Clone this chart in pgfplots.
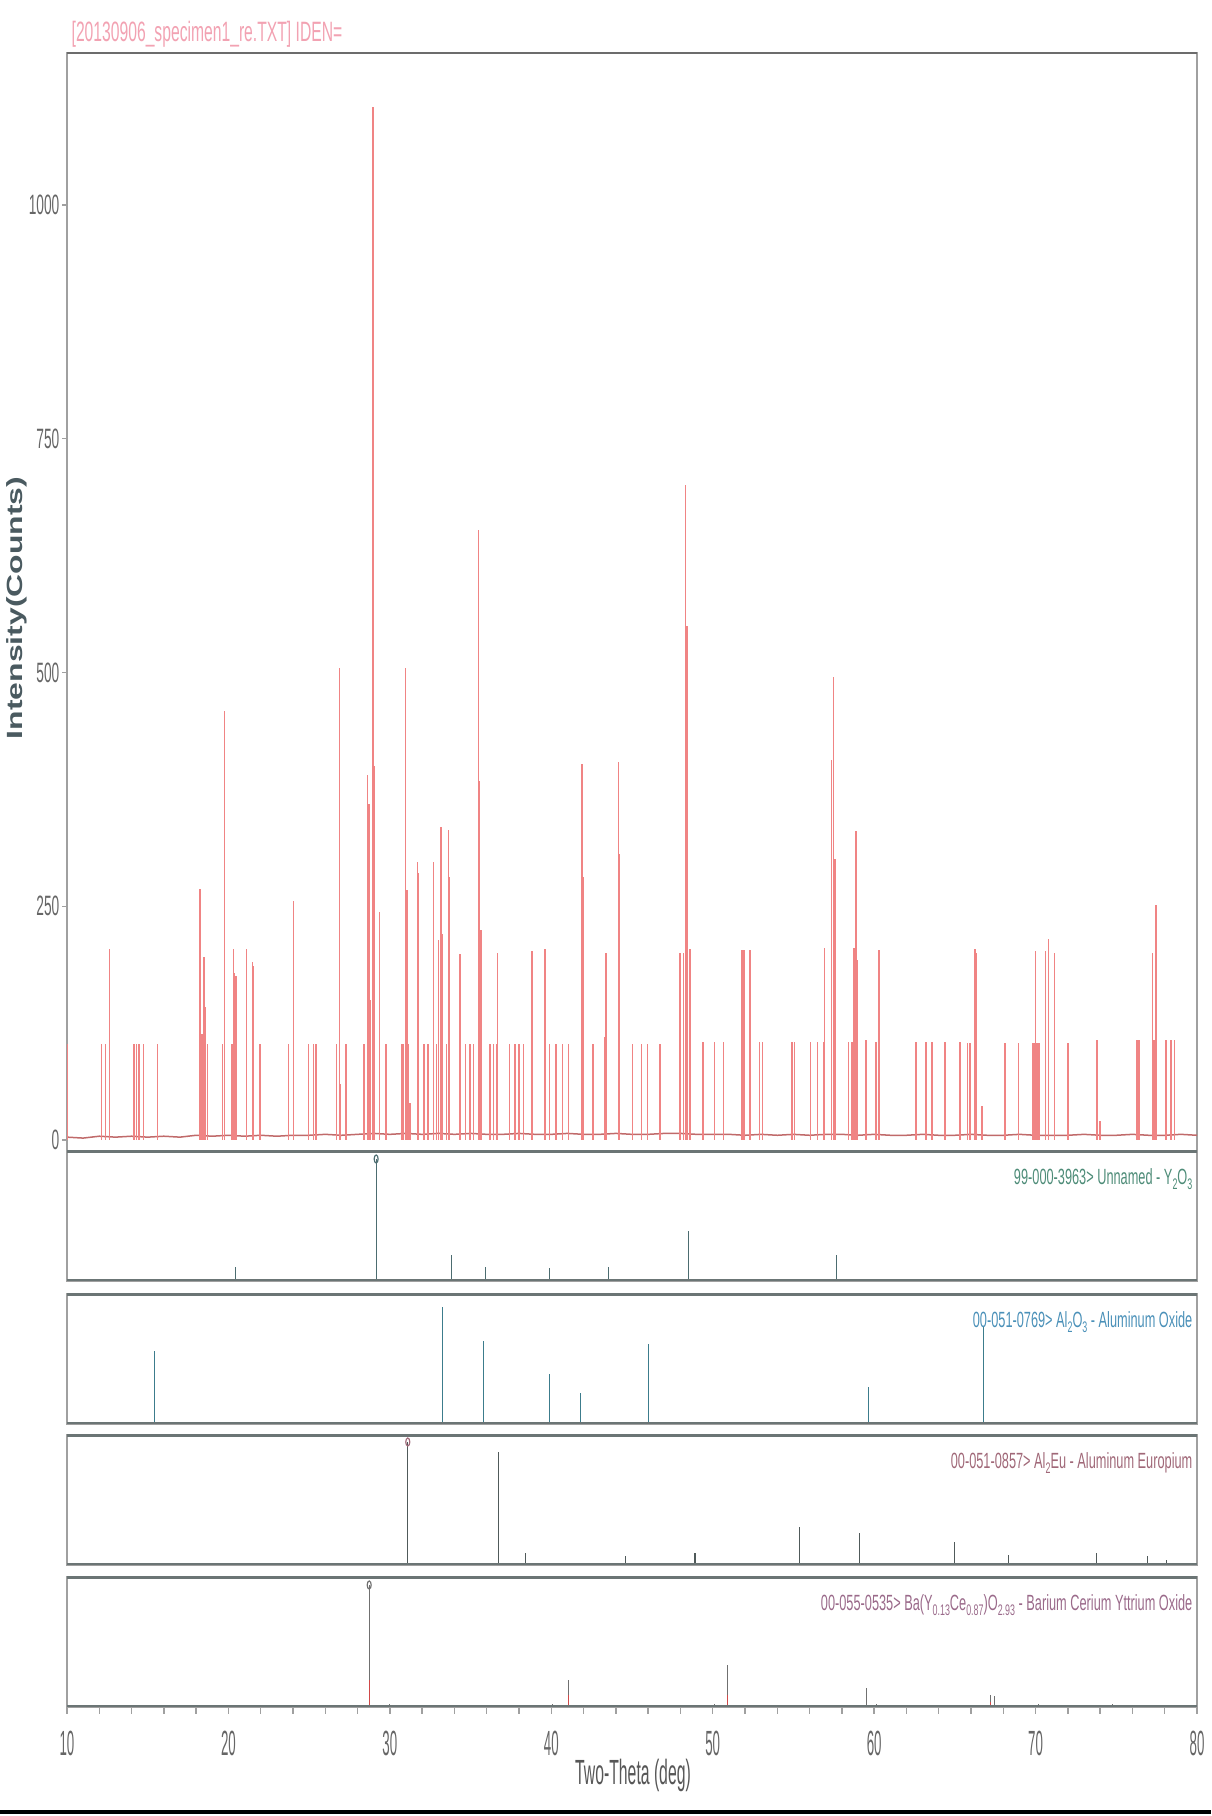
\documentclass[border=0pt]{standalone}
\usepackage{fontspec}
\setmainfont{Liberation Sans}
\usepackage{pgfplots}
\pgfplotsset{compat=1.18}
\newfontfamily\titlef[FakeStretch=0.56]{Liberation Sans}
\newfontfamily\ytickf[FakeStretch=0.49]{Liberation Sans}
\newfontfamily\xtickf[FakeStretch=0.38]{Liberation Sans}
\newfontfamily\panelf[FakeStretch=0.58]{Liberation Sans}
\newfontfamily\xlabf[FakeStretch=0.45]{Liberation Sans}
\newfontfamily\ylabf[FakeStretch=1.45]{Liberation Sans}
\newcommand\sub[1]{\raisebox{-0.35ex}{\fontsize{4.6}{4.6}\selectfont #1}}
\definecolor{spec}{HTML}{F08484}
\definecolor{titlec}{HTML}{F2A2B2}
\definecolor{tickc}{HTML}{666666}
\definecolor{axc}{HTML}{A0A0A0}
\definecolor{framec}{HTML}{6B7575}
\definecolor{ylabc}{HTML}{4A5A60}
\definecolor{lab1}{HTML}{4E8C78}
\definecolor{lab2}{HTML}{4A90B8}
\definecolor{lab3}{HTML}{A06878}
\definecolor{lab4}{HTML}{9A6A8A}
\definecolor{stk1}{HTML}{4C6C70}
\definecolor{stk2}{HTML}{3C7C8C}
\definecolor{stk3}{HTML}{505A5A}
\definecolor{stk4}{HTML}{707070}
\definecolor{stkred}{HTML}{D04848}
\pgfplotsset{
  base/.style={
    scale only axis, width=339pt,
    xmin=10, xmax=80,
    axis line style={draw=axc, line width=0.4pt},
    tick style={draw=axc, line width=0.4pt},
    /pgf/number format/assume math mode=true,
  },
  panel/.style={
    base, height=39pt, ymin=0, ymax=130,
    xtick=\empty, ytick=\empty,
  },
  stick/.style={ycomb, line width=0.35pt, #1},
  topmark/.style={only marks, mark=o, mark size=0.6pt,
    mark options={yscale=2, line width=0.35pt, #1}},
}
\tikzset{plabel/.style={anchor=base east, font=\panelf\fontsize{6.6}{6.6}\selectfont, inner sep=0pt}}
\newcommand\frames{%
  \draw[framec, line width=1.2pt] (rel axis cs:0,0) -- (rel axis cs:1,0);
  \draw[framec, line width=1.2pt] (rel axis cs:0,1) -- (rel axis cs:1,1);}
\begin{document}
\begin{tikzpicture}
\useasboundingbox (0,0) rectangle (363.3pt,544.8pt);
% main pattern
\begin{axis}[base, at={(20.1pt,199.5pt)}, anchor=south west,
  height=329.4pt, ymin=-11.8, ymax=1162.6,
  xtick=\empty, ytick={0,250,500,750,1000},
  yticklabels={0,250,500,750,1000},
  ytick pos=left, tick align=outside, major tick length=1.5pt,
  yticklabel style={font=\ytickf\fontsize{8.4}{8.4}\selectfont, text=tickc, inner sep=0.6pt},
]
\addplot[spec!80!black, line width=0.45pt] coordinates {
(10,3)(11,2)(12,4)(13,3)(14,4)(15,3)(16,4)(17,3)(18,5)(19,4)(20,5)(21,4)(22,5)(23,4)
(24,5)(25,5)(26,6)(27,5)(28,6)(29,7)(30,6)(31,7)(32,6)(33,7)(34,6)(35,7)(36,6)(37,6)
(38,7)(39,6)(40,6)(41,7)(42,6)(43,6)(44,7)(45,6)(46,6)(47,7)(48,7)(49,6)(50,6)(51,6)
(52,5)(53,6)(54,5)(55,6)(56,5)(57,6)(58,6)(59,5)(60,6)(61,5)(62,5)(63,6)(64,5)(65,5)
(66,6)(67,5)(68,5)(69,6)(70,5)(71,5)(72,5)(73,6)(74,5)(75,5)(76,6)(77,5)(78,5)(79,6)(80,5)};
\addplot[stick=spec, line width=0.45pt] coordinates {
(10.02,103)(12.15,103)(12.39,103)(12.62,204)(14.15,103)(14.32,103)(14.46,103)(14.73,103)
(15.60,103)(18.20,110)(18.24,268)(18.36,113)(18.50,196)(18.58,142)(18.70,103)(19.62,103)
(19.75,459)(20.22,103)(20.30,204)(20.39,179)(20.48,175)(21.12,204)(21.50,190)(21.56,186)
(21.95,103)(23.71,103)(24.02,256)(24.95,103)(25.26,103)(25.43,103)(26.70,103)(26.87,505)
(26.95,60)(27.27,103)(28.40,103)(28.62,390)(28.70,359)(28.80,150)(28.93,990)(28.96,1105)
(29.02,400)(29.35,244)(29.76,103)(30.74,103)(30.85,103)(30.98,505)(31.05,267)(31.15,103)
(31.25,40)(31.70,297)(31.78,285)(32.10,103)(32.35,103)(32.70,297)(32.90,103)(33.00,214)
(33.17,335)(33.25,220)(33.50,103)(33.62,331)(33.68,281)(34.35,199)(34.70,103)(34.97,103)
(35.17,103)(35.48,652)(35.53,384)(35.65,225)(36.20,103)(36.41,103)(36.62,103)(36.68,200)
(37.40,103)(37.76,103)(38.00,103)(38.27,103)(38.79,202)(39.62,204)(39.90,103)(40.28,103)
(40.70,103)(41.06,103)(41.90,402)(41.96,281)(42.57,103)(43.30,110)(43.40,200)(44.16,404)
(44.22,306)(45.02,103)(45.60,103)(45.97,103)(46.74,103)(47.98,200)(48.19,200)(48.32,701)
(48.40,550)(48.58,204)(49.39,105)(50.10,105)(50.66,105)(51.80,203)(51.94,203)(52.32,203)
(52.90,105)(53.08,105)(54.90,105)(55.06,105)(56.07,105)(56.50,105)(56.85,105)(56.92,205)
(57.35,406)(57.48,495)(57.56,300)(58.40,105)(58.62,105)(58.75,205)(58.88,330)(58.95,193)
(59.50,107)(60.10,105)(60.30,203)(62.60,105)(63.20,105)(63.57,105)(64.40,105)(65.33,105)
(65.78,104)(65.95,104)(66.26,204)(66.35,200)(66.67,36)(68.10,104)(68.94,104)(69.80,104)
(69.90,104)(70.00,202)(70.10,104)(70.20,104)(70.60,202)(70.80,215)(71.17,200)(72.00,104)
(73.80,107)(74.00,20)(76.27,107)(76.42,107)(77.24,200)(77.35,107)(77.45,251)(78.07,107)
(78.40,107)(78.60,107)};
\draw[gray!85!black, line width=0.6pt] (rel axis cs:0,1) -- (rel axis cs:1,1);
\end{axis}
% 99-000-3963 Y2O3
\begin{axis}[panel, at={(20.1pt,160.5pt)}, anchor=south west]
\addplot[stick=stk1] coordinates {(20.44,14)(29.15,122)(33.80,26)(35.90,14)(39.87,13)(43.55,14)(48.50,50)(57.66,26)};
\addplot[topmark=stk1] coordinates {(29.15,122)};
\frames
\node[plabel, text=lab1] at ([xshift=-1.2pt,yshift=-10.2pt]rel axis cs:1,1) {99-000-3963> Unnamed - Y\sub{2}O\sub{3}};
\end{axis}
% 00-051-0769 Al2O3
\begin{axis}[panel, at={(20.1pt,117.6pt)}, anchor=south west]
\addplot[stick=stk2] coordinates {(15.42,73)(33.27,117)(35.80,83)(39.87,50)(41.83,31)(46.04,80)(59.67,37)(66.75,97)};
\frames
\node[plabel, text=lab2] at ([xshift=-1.2pt,yshift=-10.2pt]rel axis cs:1,1) {00-051-0769> Al\sub{2}O\sub{3} - Aluminum Oxide};
\end{axis}
% 00-051-0857 Al2Eu
\begin{axis}[panel, at={(20.1pt,75.3pt)}, anchor=south west]
\addplot[stick=stk3] coordinates {(31.11,123)(36.71,113)(38.40,12)(44.60,9)(48.90,12)(55.40,38)(59.10,32)(64.98,23)(68.33,10)(73.78,12)(76.94,9)(78.09,5)};
\addplot[topmark=lab3] coordinates {(31.11,123)};
\frames
\node[plabel, text=lab3] at ([xshift=-1.2pt,yshift=-10.2pt]rel axis cs:1,1) {00-051-0857> Al\sub{2}Eu - Aluminum Europium};
\end{axis}
% 00-055-0535 Ba(Y,Ce)O
\begin{axis}[panel, at={(20.1pt,32.7pt)}, anchor=south west,
  xtick={10,20,...,80}, minor x tick num=4, xtick pos=lower,
  tick align=outside, major tick length=2.1pt, minor tick length=2.1pt,
  xticklabel style={font=\xtickf\fontsize{10.5}{10.5}\selectfont, text=tickc, anchor=north, yshift=-1.5pt},
]
\addplot[stick=stk4] coordinates {(28.72,122)(30.00,3)(40.10,3)(41.06,27)(50.10,3)(50.90,42)(59.50,19)(60.15,3)(67.20,12)(67.45,11)(70.20,3)(74.75,3)};
\addplot[stick=stkred] coordinates {(28.74,27)(41.08,12)(50.92,12)(67.22,5)(74.77,2)};
\addplot[topmark=stk4] coordinates {(28.72,122)};
\frames
\node[plabel, text=lab4] at ([xshift=-1.2pt,yshift=-10.2pt]rel axis cs:1,1) {00-055-0535> Ba(Y\sub{0.13}Ce\sub{0.87})O\sub{2.93} - Barium Cerium Yttrium Oxide};
\end{axis}
% title, axis labels
\node[anchor=base west, inner sep=0pt, text=titlec, font=\titlef\fontsize{8.4}{8.4}\selectfont] at (21.3pt,532.2pt) {[20130906\_specimen1\_re.TXT] IDEN=};
\node[rotate=90, inner sep=0pt, text=ylabc, font=\ylabf\bfseries\fontsize{6.6}{6.6}\selectfont] at (5.1pt,362.4pt) {Intensity(Counts)};
\node[inner sep=0pt, text=tickc!85!black, font=\xlabf\fontsize{10.5}{10.5}\selectfont] at (189.9pt,12.3pt) {Two-Theta (deg)};
\fill[black] (0,0.6pt) rectangle (363.3pt,1.8pt);
\end{tikzpicture}
\end{document}
